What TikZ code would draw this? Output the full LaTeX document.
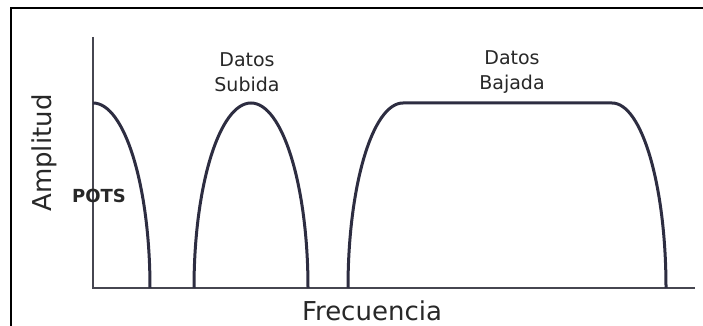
\documentclass[tikz,border=0pt]{standalone}
\usepackage{fontspec}
\setmainfont{DejaVu Sans}
\usepackage{tikz}
\usetikzlibrary{positioning}
\definecolor{cCurve}{RGB}{45,45,65}
\definecolor{cAxis}{RGB}{70,70,80}
\definecolor{cText}{RGB}{40,40,40}
\tikzset{
  frameline/.style={line width=2pt,black},
  axisline/.style={line width=1.3pt,color=cAxis},
  bandline/.style={line width=3pt,color=cCurve},
  smalllbl/.style={align=center,text=cText,font=\fontsize{19}{25}\selectfont,inner sep=0pt},
  biglbl/.style={text=cText,font=\fontsize{26}{30}\selectfont,inner sep=0pt}
}
\begin{document}
\begin{tikzpicture}[x=1pt,y=1pt]

  \useasboundingbox (0,0) rectangle (703,326);
  \fill[white] (0,0) rectangle (703,326);

  % outer frame (top and left only)
  \draw[frameline] (11,-5) -- (11,318) -- (710,318);

  % axes
  \coordinate (origin) at (93,38);
  \coordinate (ytop) at (93,289);
  \coordinate (xend) at (695,38);
  \draw[axisline] (ytop) -- (origin) -- (xend);

  % POTS band
  \draw[bandline] (93,223) arc[start angle=90,end angle=0,x radius=57,y radius=185];

  % upstream band
  \draw[bandline] (194,38) arc[start angle=180,end angle=0,x radius=57,y radius=185];

  % downstream band
  \draw[bandline] (348,38) arc[start angle=180,end angle=90,x radius=55,y radius=185]
      -- (612,223) arc[start angle=90,end angle=0,x radius=54,y radius=185];

  % labels
  \node[smalllbl] (sub) at (247,254) {Datos\\Subida};
  \node[smalllbl] (baj) at (512,254) {Datos\\Bajada};
  \node[text=cText,font=\bfseries\fontsize{18}{20}\selectfont,inner sep=0pt] (pots) at (99,130) {POTS};
  \node[biglbl,rotate=90] (amp) at (44,173) {Amplitud};
  \node[biglbl] (frec) at (372,15) {Frecuencia};

\end{tikzpicture}
\end{document}
